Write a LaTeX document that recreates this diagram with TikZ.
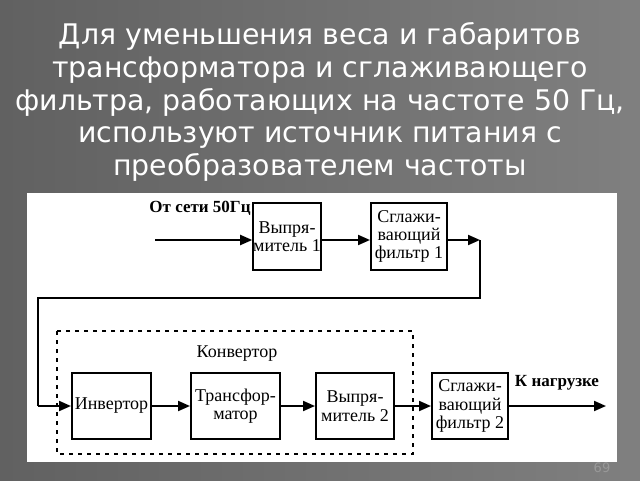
\documentclass[tikz,border=0pt]{standalone}
\usepackage{fontspec}
\setmainfont{Liberation Serif}
\newfontfamily\titlefont{DejaVu Sans}
\usetikzlibrary{arrows.meta}
\tikzset{
  blk/.style={draw, line width=1pt, align=center, inner sep=0pt, font=\fontsize{9}{9.2}\selectfont},
  sig/.style={line width=1pt, -{Triangle[length=6pt,width=5pt]}},
}
\begin{document}
\begin{tikzpicture}[x=0.5pt,y=-0.5pt]
  \useasboundingbox (0,0) rectangle (640,480);
  % slide background
  \shade[left color=black!62, right color=black!50] (0,0) rectangle (640,480);
  \node[text=white, align=center, font=\titlefont\fontsize{14.2}{16.3}\selectfont] (title) at (320,102)
    {Для уменьшения веса и габаритов\\трансформатора и сглаживающего\\фильтра, работающих на частоте 50 Гц,\\используют источник питания с\\преобразователем частоты};
  \fill[white] (27,193) rectangle (617,462);
  \node[text=black!40, font=\titlefont\fontsize{6.5}{7}\selectfont] (pg) at (602,468) {69};
  % upper row
  \node[blk, minimum width=33pt, minimum height=33.5pt] (rect1) at (287,236.5) {Выпря-\\митель 1};
  \node[blk, minimum width=38pt, minimum height=33.5pt] (filt1) at (409,236.5) {Сглажи-\\вающий\\фильтр 1};
  \coordinate (in) at (155,240);
  \coordinate (c1) at (480,240);
  \coordinate (c2) at (480,298);
  \coordinate (c3) at (38,298);
  \coordinate (c4) at (38,406);
  \node[font=\fontsize{8.5}{9}\selectfont\bfseries, anchor=south] (src) at (200,223) {От сети 50Гц};
  % converter
  \draw[line width=1pt, dash pattern=on 2pt off 2.5pt] (57,331) rectangle (413,454);
  \node[font=\fontsize{9}{9}\selectfont] (conv) at (237,354) {Конвертор};
  \node[blk, minimum width=39.5pt, minimum height=33pt] (inv) at (111.5,406) {Инвертор};
  \node[blk, minimum width=44.5pt, minimum height=33pt] (trans) at (235.5,406) {Трансфор-\\матор};
  \node[blk, minimum width=39pt, minimum height=33pt] (rect2) at (355,406) {Выпря-\\митель 2};
  \node[blk, minimum width=38pt, minimum height=33pt] (filt2) at (470,406) {Сглажи-\\вающий\\фильтр 2};
  \coordinate (out) at (606,406);
  \node[font=\fontsize{8.5}{9}\selectfont\bfseries] (load) at (557,383) {К нагрузке};
  % connectors
  \draw[sig] (in) -- (in -| rect1.west);
  \draw[sig] (rect1.east |- in) -- (filt1.west |- in);
  \draw[sig] (filt1.east |- in) -- (c1);
  \draw[line width=1pt] (c1) -- (c2) -- (c3) -- (c4);
  \draw[sig] (c4) -- (inv.west);
  \draw[sig] (inv) -- (trans);
  \draw[sig] (trans) -- (rect2);
  \draw[sig] (rect2) -- (filt2);
  \draw[sig] (filt2) -- (out);
\end{tikzpicture}
\end{document}
